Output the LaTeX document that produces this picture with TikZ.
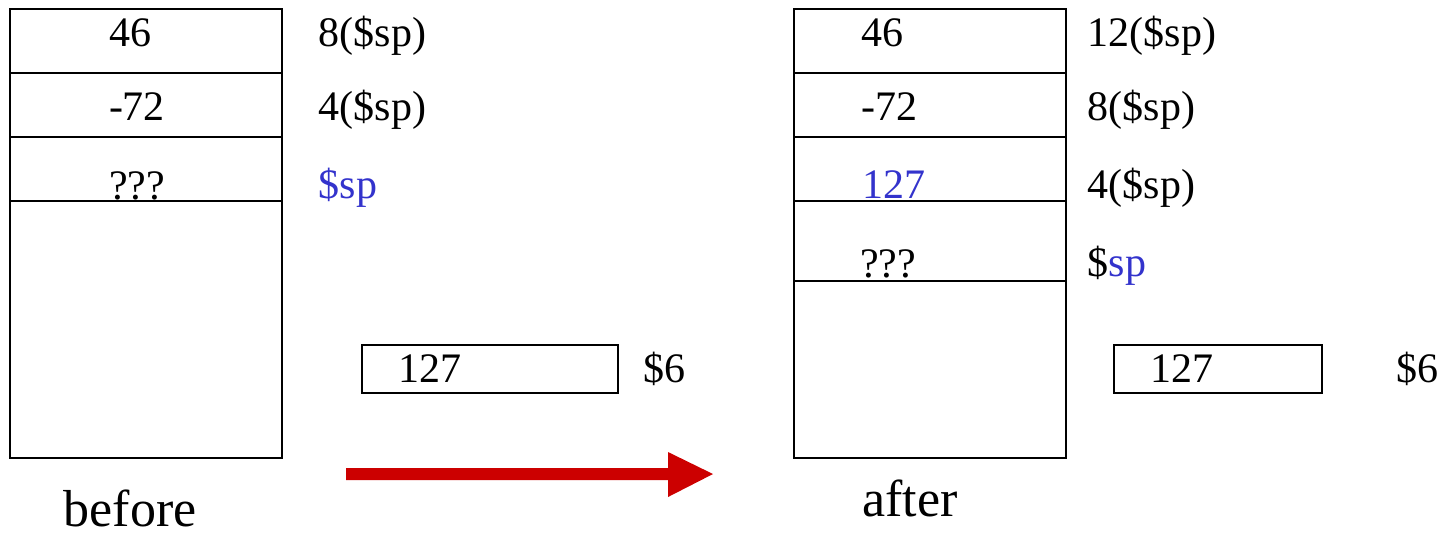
\documentclass[tikz,border=0pt]{standalone}
\usepackage{fontspec}
\setmainfont{Liberation Serif}
\definecolor{spblue}{HTML}{3333CC}
\definecolor{arrowred}{HTML}{CC0000}
\begin{document}
\begin{tikzpicture}[x=0.5pt, y=-0.5pt, line width=0.7pt]

    \tikzstyle{every node}=[inner sep=0pt, font=\fontsize{21}{24}\selectfont]
    \tikzstyle{cell}=[anchor=base]
    \tikzstyle{addr}=[anchor=base west]
    \tikzstyle{caption}=[anchor=base, font=\fontsize{26}{30}\selectfont]

    \useasboundingbox (0,0) rectangle (1454,538);

    % before
    \draw (10,9) rectangle (282,458);
    \draw (10,73) -- (282,73) (10,137) -- (282,137) (10,201) -- (282,201);
    \node[cell] (b46) at (130,46) {46};
    \node[cell] (b72) at (137,120) {-72};
    \node[cell] (bq) at (137,199) {???};
    \node[addr] (b8sp) at (318,46) {8(\$sp)};
    \node[addr] (b4sp) at (318,120) {4(\$sp)};
    \node[addr, text=spblue] (bsp) at (318,198) {\$sp};
    \node[draw, minimum width=128pt, minimum height=24pt] (breg) at (490,369) {};
    \node[cell] (b127) at (430,382) {127};
    \node[addr] (b6) at (643,382) {\$6};
    \node[caption] (before) at (130,526) {before};

    % arrow
    \coordinate (from) at (346,474);
    \coordinate (to) at (713,474);
    \fill[arrowred] (346,468) -- (668,468) -- (668,452) -- (713,474)
        -- (668,497) -- (668,480) -- (346,480) -- cycle;

    % after
    \draw (794,9) rectangle (1066,458);
    \draw (794,73) -- (1066,73) (794,137) -- (1066,137) (794,201) -- (1066,201)
          (794,281) -- (1066,281);
    \node[cell] (a46) at (882,46) {46};
    \node[cell] (a72) at (889,120) {-72};
    \node[cell, text=spblue] (a127) at (894,198) {127};
    \node[cell] (aq) at (888,277) {???};
    \node[addr] (a12sp) at (1087,46) {12(\$sp)};
    \node[addr] (a8sp) at (1087,120) {8(\$sp)};
    \node[addr] (a4sp) at (1087,198) {4(\$sp)};
    \node[addr] (asp) at (1087,276) {\$\textcolor{spblue}{sp}};
    \node[draw, minimum width=104pt, minimum height=24pt] (areg) at (1218,369) {};
    \node[cell] (a127r) at (1182,382) {127};
    \node[addr] (a6) at (1396,382) {\$6};
    \node[caption] (after) at (910,516) {after};

\end{tikzpicture}
\end{document}
